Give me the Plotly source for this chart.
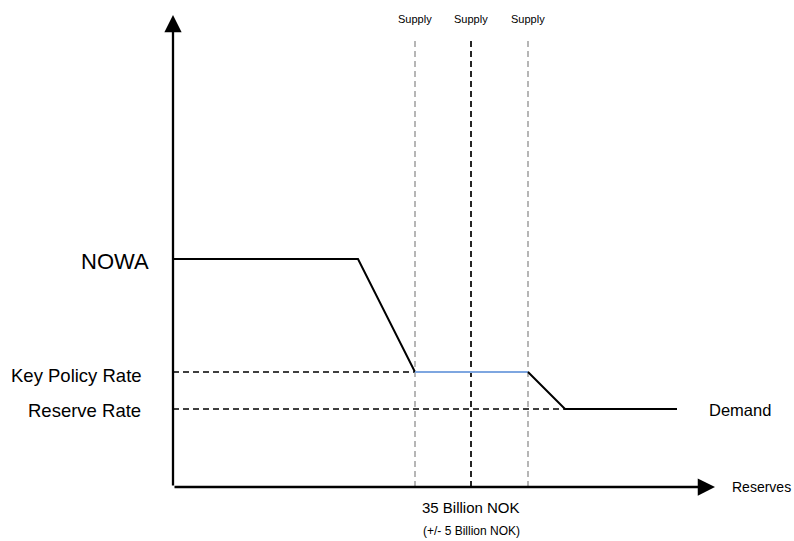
import plotly.graph_objects as go

# Schematic units (reserves on x, rate on y)
rate_labels = ["NOWA", "Key Policy Rate", "Reserve Rate"]
rate_levels = [2.28, 1.15, 0.78]

demand_x = [0.0, 1.85, 2.42]
demand_y = [2.28, 2.28, 1.15]
corridor_x = [2.42, 3.55]
corridor_y = [1.15, 1.15]
demand2_x = [3.55, 3.92, 5.04]
demand2_y = [1.15, 0.78, 0.78]

supply_x = [2.42, 2.98, 3.55]
supply_colors = ["#aaaaaa", "#000000", "#aaaaaa"]
supply_labels = ["Supply", "Supply", "Supply"]
supply_top = 4.48

x_end = 5.42
y_end = 4.72

fig = go.Figure()

# dashed horizontal rate lines
fig.add_trace(go.Scatter(x=[0, demand_x[2]], y=[rate_levels[1]] * 2, mode="lines",
                         line=dict(color="black", width=1.7, dash="6px,4px"), hoverinfo="skip"))
fig.add_trace(go.Scatter(x=[0, demand2_x[1]], y=[rate_levels[2]] * 2, mode="lines",
                         line=dict(color="black", width=1.7, dash="6px,4px"), hoverinfo="skip"))

# supply vertical dashed lines
for sx, sc, sl in zip(supply_x, supply_colors, supply_labels):
    fig.add_trace(go.Scatter(x=[sx, sx], y=[0, supply_top], mode="lines",
                             line=dict(color=sc, width=1.7, dash="6px,4px"), hoverinfo="skip"))
    fig.add_annotation(x=sx, y=supply_top + 0.2, text=sl, showarrow=False,
                       font=dict(size=11, color="black"), xanchor="center", yanchor="middle")

# demand curve
fig.add_trace(go.Scatter(x=demand_x, y=demand_y, mode="lines",
                         line=dict(color="black", width=2), hoverinfo="skip"))
fig.add_trace(go.Scatter(x=corridor_x, y=corridor_y, mode="lines",
                         line=dict(color="#7ea6e0", width=2), hoverinfo="skip"))
fig.add_trace(go.Scatter(x=demand2_x, y=demand2_y, mode="lines",
                         line=dict(color="black", width=2), hoverinfo="skip"))

# axes arrows
fig.add_annotation(x=x_end, y=0, ax=0, ay=0, xref="x", yref="y", axref="x", ayref="y",
                   showarrow=True, arrowhead=2, arrowsize=1.5, arrowwidth=2.3, arrowcolor="black", text="")
fig.add_annotation(x=0, y=y_end, ax=0, ay=0, xref="x", yref="y", axref="x", ayref="y",
                   showarrow=True, arrowhead=2, arrowsize=1.5, arrowwidth=2.3, arrowcolor="black", text="")

# rate labels
label_sizes = [22, 18.5, 18.5]
label_x = [-0.22, -0.29, -0.30]
label_shift = [-2, -3, -1]
for lbl, lv, fs, lx, sh in zip(rate_labels, rate_levels, label_sizes, label_x, label_shift):
    fig.add_annotation(x=lx, y=lv, text=lbl, showarrow=False, xanchor="right", yanchor="middle",
                       yshift=sh, font=dict(size=fs, color="black"))

fig.add_annotation(x=demand2_x[-1] + 0.3, y=rate_levels[2], text="Demand", showarrow=False,
                   xanchor="left", yanchor="middle", yshift=-1, font=dict(size=16.5, color="black"))
fig.add_annotation(x=x_end + 0.15, y=0.0, text="Reserves", showarrow=False,
                   xanchor="left", yanchor="middle", font=dict(size=14, color="black"))
fig.add_annotation(x=supply_x[1], y=-0.2, text="35 Billion NOK", showarrow=False,
                   xanchor="center", yanchor="middle", font=dict(size=15, color="black"))
fig.add_annotation(x=supply_x[1], y=-0.44, text="(+/- 5 Billion NOK)", showarrow=False,
                   xanchor="center", yanchor="middle", font=dict(size=12, color="black"))

fig.update_layout(
    width=794, height=541, autosize=False,
    margin=dict(l=0, r=0, t=0, b=0),
    paper_bgcolor="white", plot_bgcolor="white",
    showlegend=False,
    font=dict(family="Liberation Sans, Arial, sans-serif", color="black"),
    xaxis=dict(range=[-1.73, 6.21], visible=False, fixedrange=True),
    yaxis=dict(range=[-0.54, 4.87], visible=False, fixedrange=True),
)

fig.write_html("out.html", config={"displayModeBar": False},
               post_script="document.body.style.margin='0px';document.body.style.overflow='hidden';")
